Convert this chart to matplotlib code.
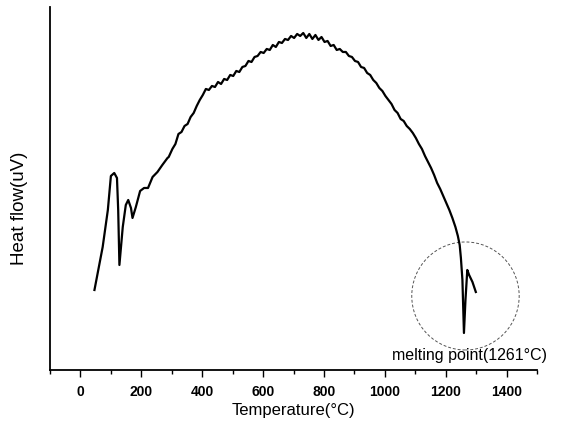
import matplotlib
matplotlib.use("Agg")
from matplotlib import pyplot as plt
from matplotlib.patches import Ellipse
from matplotlib.ticker import MultipleLocator

plt.rcParams['font.family'] = ['Liberation Sans', 'DejaVu Sans']

# temperature (C) and heat flow (arbitrary units)
temp = [46, 73, 90, 100, 111, 120, 124, 128, 139, 149, 157, 166, 171, 182, 196,
        209, 222, 237, 253, 269, 286,
        290, 302, 312, 322, 332, 342, 352, 362, 372, 382, 392, 402, 412, 422,
        432, 442, 452, 462, 472, 482, 492, 502, 512, 522, 532, 542, 552, 562,
        572, 582, 592, 602, 612, 622, 632, 642, 652, 662, 672, 682, 692, 702,
        712, 722, 732, 742, 752, 762, 772, 782, 792, 802, 812, 822, 832, 842,
        852, 862, 872, 882, 892, 902, 912, 922, 932, 942, 952, 962, 972, 982,
        992, 1002, 1012, 1022, 1032, 1042, 1052, 1062, 1072, 1082, 1092, 1102,
        1112, 1122, 1132, 1142, 1152, 1162, 1172, 1182, 1192, 1202, 1212, 1222,
        1232, 1240, 1246, 1250, 1255, 1260, 1265, 1271, 1277, 1288, 1299]
heat = [80, 123, 160, 194, 197, 192, 160, 105, 143, 165, 170, 162, 152, 163, 179,
        182, 182, 193, 198, 205, 212,
        213, 221, 226, 236, 238, 244, 246, 253, 257, 264, 270, 275, 281, 280,
        284, 283, 288, 286, 291, 290, 295, 294, 299, 298, 303, 304, 309, 308,
        313, 314, 318, 317, 321, 320, 325, 323, 328, 327, 331, 330, 334, 332,
        336, 334, 337, 332, 336, 331, 335, 330, 333, 328, 329, 324, 325, 320,
        321, 318, 318, 314, 313, 309, 308, 303, 302, 297, 295, 290, 287, 282,
        279, 274, 270, 266, 260, 257, 251, 249, 244, 241, 237, 232,
        226, 221, 214, 208, 202, 195, 187, 181, 174, 167, 160, 152,
        143, 134, 125, 112, 90, 37, 70, 100, 95, 88, 78]

melt_temp = 1261
x_major = [0, 200, 400, 600, 800, 1000, 1200, 1400]

fig = plt.figure(figsize=(5.62, 4.36), dpi=100)
ax = fig.add_axes([0.089, 0.1514, 0.8665, 0.8326])

ax.plot(temp, heat, color='black', lw=1.6)

# dashed circle round the melting peak
circ = Ellipse((1265, 74), width=353, height=108, fill=False,
               edgecolor='#555555', linestyle=(0, (3, 2)), lw=0.7)
ax.add_patch(circ)
ax.text(1277, 14, "melting point(%d°C)" % melt_temp, ha='center', va='center',
        fontsize=11.5)

ax.set_xlim(-100, 1500)
ax.set_ylim(0, 363)
ax.set_xticks(x_major)
ax.set_xticklabels([str(v) for v in x_major], fontweight='bold', fontsize=10)
ax.xaxis.set_minor_locator(MultipleLocator(100))
ax.tick_params(axis='x', which='major', length=5, width=1, pad=6)
ax.tick_params(axis='x', which='minor', length=3, width=1)
ax.set_yticks([])

ax.spines['top'].set_visible(False)
ax.spines['right'].set_visible(False)
ax.spines['left'].set_linewidth(1.3)
ax.spines['bottom'].set_linewidth(1.3)

ax.set_xlabel("Temperature(°C)", fontsize=12, labelpad=3)
ax.set_ylabel("Heat flow(uV)", fontsize=13.5)
ax.yaxis.set_label_coords(-0.045, 0.446)

plt.savefig("out.png", dpi=100)
